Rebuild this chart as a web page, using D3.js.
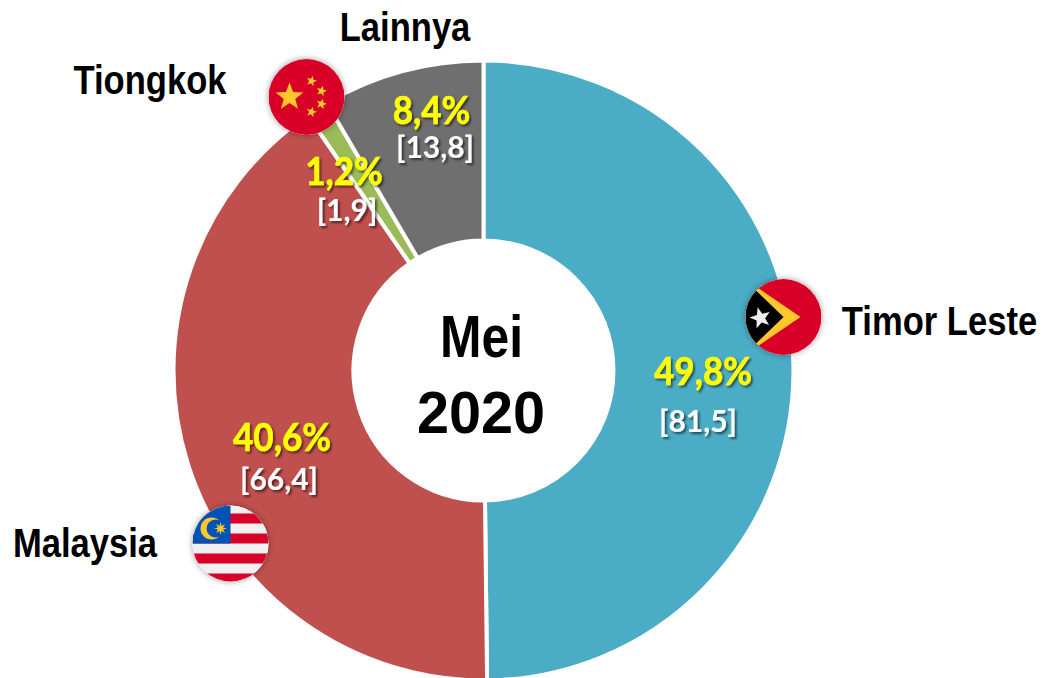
<!DOCTYPE html>
<html>
<head>
<meta charset="utf-8">
<script src="https://cdn.jsdelivr.net/npm/d3@7"></script>
<style>
  html, body { margin: 0; background: #fff; overflow: hidden; }
  .name { font-family: "Liberation Sans", sans-serif; font-weight: 700; font-size: 40px; fill: #000; text-anchor: middle; }
  .pct { font-family: Lato, sans-serif; font-weight: 700; font-size: 39px; fill: #ffff00; stroke: #ffff00; stroke-width: 0.6px; text-anchor: middle; filter: url(#shadow); }
  .val { font-family: Lato, sans-serif; font-weight: 700; font-size: 30px; fill: #fff; text-anchor: middle; filter: url(#shadow); }
  .center { font-family: "Liberation Sans", sans-serif; font-weight: 700; font-size: 60px; fill: #000; text-anchor: middle; }
</style>
</head>
<body>
<script>
var categories = ["Timor Leste", "Malaysia", "Tiongkok", "Lainnya"];
var values = [81.5, 66.4, 1.9, 13.8];
var percents = ["49,8%", "40,6%", "1,2%", "8,4%"];
var valueLabels = ["[81,5]", "[66,4]", "[1,9]", "[13,8]"];
var colors = ["#4bacc6", "#c0504d", "#9bbb59", "#706f6f"];
var centerLines = ["Mei", "2020"];

var width = 1043,
    height = 678,
    cx = 483.5,
    cy = 370.5,
    outer = 310,
    inner = 130;

var svg = d3.select("body").append("svg")
    .attr("width", width)
    .attr("height", height);

var defs = svg.append("defs");

var shadow = defs.append("filter").attr("id", "shadow")
    .attr("x", "-20%").attr("y", "-20%").attr("width", "140%").attr("height", "140%");
shadow.append("feDropShadow")
    .attr("dx", 2).attr("dy", 2).attr("stdDeviation", 1.2)
    .attr("flood-color", "#000").attr("flood-opacity", 0.55);

var flagShadow = defs.append("filter").attr("id", "flagShadow")
    .attr("x", "-20%").attr("y", "-20%").attr("width", "140%").attr("height", "140%");
flagShadow.append("feDropShadow")
    .attr("dx", 0).attr("dy", 0).attr("stdDeviation", 3)
    .attr("flood-color", "#000").attr("flood-opacity", 0.4);

var pie = d3.pie().sort(null).value(function(d) { return d; });
var arc = d3.arc().innerRadius(inner).outerRadius(outer);

var g = svg.append("g")
    .attr("transform", "translate(" + cx + "," + cy + ")");

g.selectAll(".slice").data(pie(values)).enter().append("path")
    .attr("class", "slice")
    .attr("d", arc)
    .attr("fill", function(d, i) { return colors[i]; })
    .attr("stroke", "#fff")
    .attr("stroke-width", 4);

// label layout, same order as categories
var pctPos = [[703, 385], [282, 451], [344, 185], [431.5, 124]];
var valPos = [[698, 432], [279, 490], [347, 221], [435, 158]];
var namePos = [[939.5, 334.5], [85, 557], [150, 94], [405, 41]];
var centerPos = [[481.5, 356.5], [481, 433]];

function squeeze(pos, sx) {
    return function(d, i) {
        var s = typeof sx === "number" ? sx : sx[i];
        return "translate(" + pos[i][0] + "," + pos[i][1] + ") scale(" + s + ",1)";
    };
}

// centre title
svg.selectAll(".center").data(centerLines).enter().append("text")
    .attr("class", "center")
    .attr("transform", squeeze(centerPos, [0.83, 0.96]))
    .text(function(d) { return d; });

svg.selectAll(".pct").data(percents).enter().append("text")
    .attr("class", "pct")
    .attr("transform", squeeze(pctPos, 0.9))
    .text(function(d) { return d; });

svg.selectAll(".val").data(valueLabels).enter().append("text")
    .attr("class", "val")
    .attr("transform", squeeze(valPos, 1))
    .text(function(d) { return d; });

svg.selectAll(".name").data(categories).enter().append("text")
    .attr("class", "name")
    .attr("transform", squeeze(namePos, 0.865))
    .text(function(d) { return d; });

// flags are drawn in a -38..38 box around their centre
var flagR = 38;

function star(points, r) {
    var pts = [];
    for (var i = 0; i < points * 2; i++) {
        var rad = i % 2 ? r * 0.42 : r;
        var a = Math.PI * i / points - Math.PI / 2;
        pts.push([rad * Math.cos(a), rad * Math.sin(a)]);
    }
    return pts.join(" ");
}

function flag(id, x, y) {
    defs.append("clipPath").attr("id", "clip" + id)
        .append("circle").attr("r", flagR);
    var f = svg.append("g").attr("transform", "translate(" + x + "," + y + ")");
    f.append("circle").attr("r", flagR).attr("fill", "#fff").attr("filter", "url(#flagShadow)");
    return f.append("g").attr("clip-path", "url(#clip" + id + ")");
}

// Tiongkok
var cn = flag("cn", 306.5, 97);
cn.append("rect").attr("x", -38).attr("y", -38).attr("width", 76).attr("height", 76).attr("fill", "#d80027");
cn.append("polygon").attr("points", star(5, 14.5)).attr("fill", "#ffc72c").attr("transform", "translate(-17,0)");
[[5, -16, 15], [15, -6, 15], [15, 7, 15], [5, 15, 15]].forEach(function(s) {
    cn.append("polygon").attr("points", star(5, 5.5)).attr("fill", "#ffc72c")
        .attr("transform", "translate(" + s[0] + "," + s[1] + ") rotate(" + s[2] + ")");
});

// Timor Leste
var tl = flag("tl", 783.5, 317);
tl.append("rect").attr("x", -38).attr("y", -38).attr("width", 76).attr("height", 76).attr("fill", "#d80027");
tl.append("polygon").attr("points", "-38,-37 -27,-30 17,0 -27,30 -38,37").attr("fill", "#ffc72c");
tl.append("polygon").attr("points", "-38,-37 -27,-26 0,0 -27,26 -38,37").attr("fill", "#000");
tl.append("polygon").attr("points", star(5, 11)).attr("fill", "#eee").attr("transform", "translate(-23,1) rotate(-15)");

// Malaysia
var my = flag("my", 230.5, 543.5);
my.append("rect").attr("x", -38).attr("y", -38).attr("width", 76).attr("height", 76).attr("fill", "#f0f0f0");
[-30, -10, 10, 30].forEach(function(y) {
    my.append("rect").attr("x", -38).attr("y", y).attr("width", 76).attr("height", 10).attr("fill", "#d80027");
});
my.append("rect").attr("x", -38).attr("y", -38).attr("width", 38).attr("height", 38).attr("fill", "#0052b4");
my.append("circle").attr("cx", -19).attr("cy", -15).attr("r", 11).attr("fill", "#ffc72c");
my.append("circle").attr("cx", -15).attr("cy", -15).attr("r", 9).attr("fill", "#0052b4");
my.append("polygon").attr("points", star(8, 6.5)).attr("fill", "#ffc72c").attr("transform", "translate(-10,-15)");
</script>
</body>
</html>
